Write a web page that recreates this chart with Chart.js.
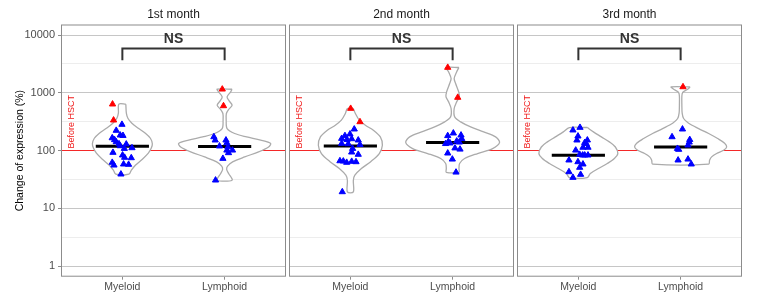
<!DOCTYPE html>
<html>
<head>
<meta charset="utf-8">
<script src="https://cdn.jsdelivr.net/npm/chart.js@4.4.1/dist/chart.umd.min.js"></script>
<style>
  html, body { margin: 0; padding: 0; background: #fff; }
  #wrap { position: relative; width: 757px; height: 303px; }
  canvas { position: absolute; top: 0; }
</style>
</head>
<body>
<div id="wrap">
  <canvas id="c1" width="288" height="303" style="left:0"></canvas>
  <canvas id="c2" width="228" height="303" style="left:288px"></canvas>
  <canvas id="c3" width="241" height="303" style="left:516px"></canvas>
</div>
<script>
'use strict';

// ── data ───────────────────────────────────────────────────────────────────
const months = ['1st month', '2nd month', '3rd month'];
const cellTypes = ['Myeloid', 'Lymphoid'];
const yTicks = [1, 10, 100, 1000, 10000];
const yMinorTicks = [3.162, 31.62, 316.2, 3162];
const yLimits = [0.653, 15200];
const yTitle = 'Change of expression (%)';
const baseline = 100;               // level before HSCT
const baselineLabel = 'Before HSCT';
const testLabel = 'NS';
const bracketSpan = [3660, 5840];   // bracket feet / bar
const testLabelAt = 8350;

// change of expression (%) per sample + horizontal jitter (category units)
const myeloid1 = [282, 222, 165, 184, 181, 153, 141, 130, 128.5, 120, 111, 108, 92.3, 83, 75.7, 74.5, 62, 55.6, 58, 57.2, 38.9];
const myeloid1Jit = [-0.004, -0.060, -0.099, -0.021, 0.006, -0.076, -0.060, -0.033, 0.038, -0.021, 0.094, 0.019, -0.092, 0.002, 0.022, 0.087, -0.099, -0.082, 0.012, 0.061, -0.014];
const myeloid1High = [634, 335];
const myeloid1HighJit = [-0.096, -0.086];

const lymphoid1 = [172, 151, 151, 135, 119, 115, 101, 101, 91, 72.6, 30.6];
const lymphoid1Jit = [-0.105, -0.092, 0.013, 0.022, -0.050, 0.032, 0.077, 0.022, 0.038, -0.017, -0.089];
const lymphoid1High = [1151, 592];
const lymphoid1HighJit = [-0.023, -0.011];

const myeloid2 = [234, 192, 180, 161, 159, 151, 154, 132, 130, 126, 108, 93.5, 85.3, 66, 65.3, 62, 64.5, 63.5, 19.2];
const myeloid2Jit = [0.038, -0.004, -0.053, -0.085, 0.013, 0.077, -0.033, -0.085, -0.021, 0.094, 0.022, 0.013, 0.077, -0.102, -0.069, -0.036, 0.013, 0.055, -0.079];
const myeloid2High = [533, 313];
const myeloid2HighJit = [0.003, 0.094];

const lymphoid2 = [180, 199.5, 184, 160, 142, 145, 131, 134, 139, 110, 105, 89.8, 70.6, 42];
const lymphoid2Jit = [-0.048, 0.007, 0.082, 0.089, -0.042, 0.040, -0.069, -0.025, 0.065, 0.023, 0.072, -0.048, -0.003, 0.033];
const lymphoid2High = [2735, 828];
const lymphoid2HighJit = [-0.048, 0.050];

const myeloid3 = [225, 250, 177, 151, 151, 136.5, 131, 113, 101, 113, 85.3, 83, 83, 83, 68, 63.5, 58, 50.8, 42.6, 38.4, 34];
const myeloid3Jit = [-0.053, 0.016, -0.004, -0.014, 0.088, 0.062, 0.078, 0.045, -0.026, 0.094, 0.013, 0.042, 0.062, 0.094, -0.092, -0.004, 0.045, 0.013, -0.092, 0.022, -0.053];
const myeloid3High = [];
const myeloid3HighJit = [];

const lymphoid3 = [234, 172, 154, 139, 123.5, 108, 104, 68, 70.6, 58];
const lymphoid3Jit = [0.018, -0.084, 0.089, 0.084, 0.072, -0.031, -0.019, -0.025, 0.072, 0.104];
const lymphoid3High = [1262];
const lymphoid3HighJit = [0.023];

// medians (Myeloid, Lymphoid) per month
const medians1 = [118.7, 117];
const medians2 = [120, 138];
const medians3 = [83, 115];

// violin outlines, top to bottom: value (%) and half width (category units)
const vMyeloid1 = [634, 443, 362, 297, 243, 199.5, 163, 131, 110, 89.8, 70.6, 55.6, 45.6, 38.9];
const wMyeloid1 = [0.034, 0.039, 0.054, 0.093, 0.156, 0.225, 0.274, 0.293, 0.283, 0.254, 0.196, 0.127, 0.088, 0.064];
const vLymphoid1 = [1151, 1035, 848, 723, 609, 513, 437, 335, 240, 197, 172, 151, 132, 115, 94.6, 77.5, 63.5, 53.5, 46.9, 40, 30.6];
const wLymphoid1 = [0.073, 0.059, 0.024, 0.044, 0.073, 0.039, 0.017, 0.015, 0.024, 0.098, 0.215, 0.352, 0.45, 0.43, 0.332, 0.196, 0.078, 0.029, 0.02, 0.039, 0.073];
const vMyeloid2 = [533, 437, 335, 274, 225, 172, 123.5, 88.7, 63.5, 48.7, 37.3, 30.6, 19.2];
const wMyeloid2 = [0.029, 0.049, 0.088, 0.147, 0.225, 0.293, 0.313, 0.283, 0.196, 0.108, 0.044, 0.029, 0.029];
const vLymphoid2 = [2735, 2296, 1765, 1445, 1035, 848, 695, 533, 382, 313, 256, 210, 172, 138, 108, 88.7, 72.6, 59.6, 48.7, 42];
const wLymphoid2 = [0.062, 0.039, 0.015, 0.029, 0.059, 0.065, 0.039, 0.015, 0.020, 0.078, 0.176, 0.303, 0.420, 0.459, 0.391, 0.244, 0.117, 0.068, 0.062, 0.062];
const vMyeloid3 = [250, 210, 172, 141, 115, 88.7, 72.6, 59.6, 48.7, 40, 34];
const wMyeloid3 = [0.088, 0.147, 0.225, 0.303, 0.362, 0.386, 0.352, 0.283, 0.196, 0.117, 0.088];
const vLymphoid3 = [1262, 1151, 1009, 871, 609, 443, 358, 297, 240, 197, 161, 134, 115, 101, 88.7, 77.5, 68, 58];
const wLymphoid3 = [0.093, 0.068, 0.020, 0.012, 0.012, 0.015, 0.029, 0.078, 0.176, 0.274, 0.362, 0.430, 0.450, 0.420, 0.352, 0.303, 0.283, 0.274];

// ── assemble ───────────────────────────────────────────────────────────────
const FONT = "'Liberation Sans', Arial, sans-serif";
Chart.defaults.font.family = FONT;

const panels = [
  { medians: medians1, groups: [
    { vals: myeloid1, jit: myeloid1Jit, hi: myeloid1High, hiJit: myeloid1HighJit, vv: vMyeloid1, vw: wMyeloid1 },
    { vals: lymphoid1, jit: lymphoid1Jit, hi: lymphoid1High, hiJit: lymphoid1HighJit, vv: vLymphoid1, vw: wLymphoid1 }] },
  { medians: medians2, groups: [
    { vals: myeloid2, jit: myeloid2Jit, hi: myeloid2High, hiJit: myeloid2HighJit, vv: vMyeloid2, vw: wMyeloid2 },
    { vals: lymphoid2, jit: lymphoid2Jit, hi: lymphoid2High, hiJit: lymphoid2HighJit, vv: vLymphoid2, vw: wLymphoid2 }] },
  { medians: medians3, groups: [
    { vals: myeloid3, jit: myeloid3Jit, hi: myeloid3High, hiJit: myeloid3HighJit, vv: vMyeloid3, vw: wMyeloid3 },
    { vals: lymphoid3, jit: lymphoid3Jit, hi: lymphoid3High, hiJit: lymphoid3HighJit, vv: vLymphoid3, vw: wLymphoid3 }] },
];

function triangles(vals, jit, c, color) {
  return {
    type: 'scatter',
    data: vals.map((v, k) => ({ x: c + jit[k], y: v })),
    pointStyle: 'triangle',
    pointRadius: 3.6,
    borderWidth: 1,
    backgroundColor: color,
    borderColor: color,
    order: 2,
  };
}

function buildDatasets(p) {
  const ds = [];
  // reference line at 100 %
  ds.push({
    type: 'line', data: [{ x: 0.4, y: baseline }, { x: 2.6, y: baseline }],
    borderColor: 'rgba(255,0,0,0.8)', borderWidth: 1, pointRadius: 0, order: 5,
  });
  panels[p].groups.forEach((g, i) => {
    const c = i + 1;
    const right = g.vv.map((v, k) => ({ x: c + g.vw[k], y: v }));
    const left = g.vv.map((v, k) => ({ x: c - g.vw[k], y: v })).reverse();
    ds.push({
      type: 'line', data: [...right, ...left, right[0]],
      borderColor: '#ababab', borderWidth: 1.3, backgroundColor: '#ffffff',
      fill: 'shape', tension: 0.3, pointRadius: 0, order: 4,
    });
    const m = panels[p].medians[i];
    ds.push({
      type: 'line', data: [{ x: c - 0.26, y: m }, { x: c + 0.26, y: m }],
      borderColor: '#000', borderWidth: 3, pointRadius: 0, order: 3,
    });
    ds.push(triangles(g.vals, g.jit, c, '#0000ff'));
    if (g.hi.length) ds.push(triangles(g.hi, g.hiJit, c, '#ff0000'));
  });
  // significance bracket
  ds.push({
    type: 'line',
    data: [{ x: 1, y: bracketSpan[0] }, { x: 1, y: bracketSpan[1] }, { x: 2, y: bracketSpan[1] }, { x: 2, y: bracketSpan[0] }],
    borderColor: '#333333', borderWidth: 2, borderJoinStyle: 'miter', pointRadius: 0, order: 1,
  });
  return ds;
}

// panel border, strip title, test label and baseline label
const panelDeco = {
  id: 'panelDeco',
  afterDraw(chart, args, opts) {
    const { ctx, chartArea: a, scales: { x, y } } = chart;
    ctx.save();
    ctx.strokeStyle = '#8c8c8c';
    ctx.lineWidth = 1;
    ctx.strokeRect(a.left + 0.5, a.top + 0.5, a.width - 1, a.height - 1);

    ctx.textAlign = 'center';
    ctx.textBaseline = 'middle';
    ctx.fillStyle = '#1a1a1a';
    ctx.font = `12px ${FONT}`;
    ctx.fillText(opts.title, (a.left + a.right) / 2, a.top - 9.5);

    ctx.fillStyle = '#333333';
    ctx.font = `bold 14px ${FONT}`;
    ctx.fillText(testLabel, x.getPixelForValue(1.5), y.getPixelForValue(testLabelAt));

    ctx.translate(x.getPixelForValue(0.5), y.getPixelForValue(baseline) - 2);
    ctx.rotate(-Math.PI / 2);
    ctx.textAlign = 'left';
    ctx.fillStyle = '#f01818';
    ctx.font = `9px ${FONT}`;
    ctx.fillText(baselineLabel, 0, 0);
    ctx.restore();
  },
};

function makePanel(id, p, padRight) {
  const first = p === 0;
  return new Chart(document.getElementById(id), {
    type: 'scatter',
    data: { datasets: buildDatasets(p) },
    plugins: [panelDeco],
    options: {
      responsive: false,
      animation: false,
      events: [],
      layout: { autoPadding: false, padding: { top: 24.5, right: padRight, bottom: 0, left: 0 } },
      plugins: {
        legend: { display: false },
        tooltip: { enabled: false },
        panelDeco: { title: months[p] },
      },
      scales: {
        x: {
          type: 'linear', min: 0.4, max: 2.6,
          afterBuildTicks: s => { s.ticks = cellTypes.map((_, i) => ({ value: i + 1 })); },
          afterFit: s => { s.height = 26.3; },
          grid: { drawOnChartArea: false, drawTicks: true, tickLength: 3, tickColor: '#8c8c8c' },
          border: { display: false },
          ticks: {
            autoSkip: false, maxRotation: 0, padding: 1, color: '#4d4d4d',
            font: { size: 10.5 },
            callback: (v, i) => cellTypes[i],
          },
        },
        y: {
          type: 'logarithmic', min: yLimits[0], max: yLimits[1],
          afterBuildTicks: s => {
            s.ticks = [...yTicks, ...yMinorTicks].sort((a, b) => a - b)
              .map(v => ({ value: v, major: yTicks.includes(v) }));
          },
          afterFit: s => { s.width = first ? 61 : 1; },
          grid: {
            color: c => (c.tick && c.tick.major ? '#c6c6c6' : '#ededed'),
            lineWidth: 1,
            drawTicks: first,
            tickLength: 3,
            tickColor: c => (c.tick && c.tick.major ? '#8c8c8c' : 'rgba(0,0,0,0)'),
          },
          border: { display: false },
          ticks: {
            display: first, autoSkip: false, padding: 3, color: '#4d4d4d',
            font: { size: 11 },
            callback: v => (yTicks.includes(v) ? String(v) : ''),
          },
          title: {
            display: first, text: yTitle, color: '#000',
            font: { size: 10.5 }, padding: { top: 13.7, bottom: 0 },
          },
        },
      },
    },
  });
}

makePanel('c1', 0, 2);
makePanel('c2', 1, 2);
makePanel('c3', 2, 15);
</script>
</body>
</html>
